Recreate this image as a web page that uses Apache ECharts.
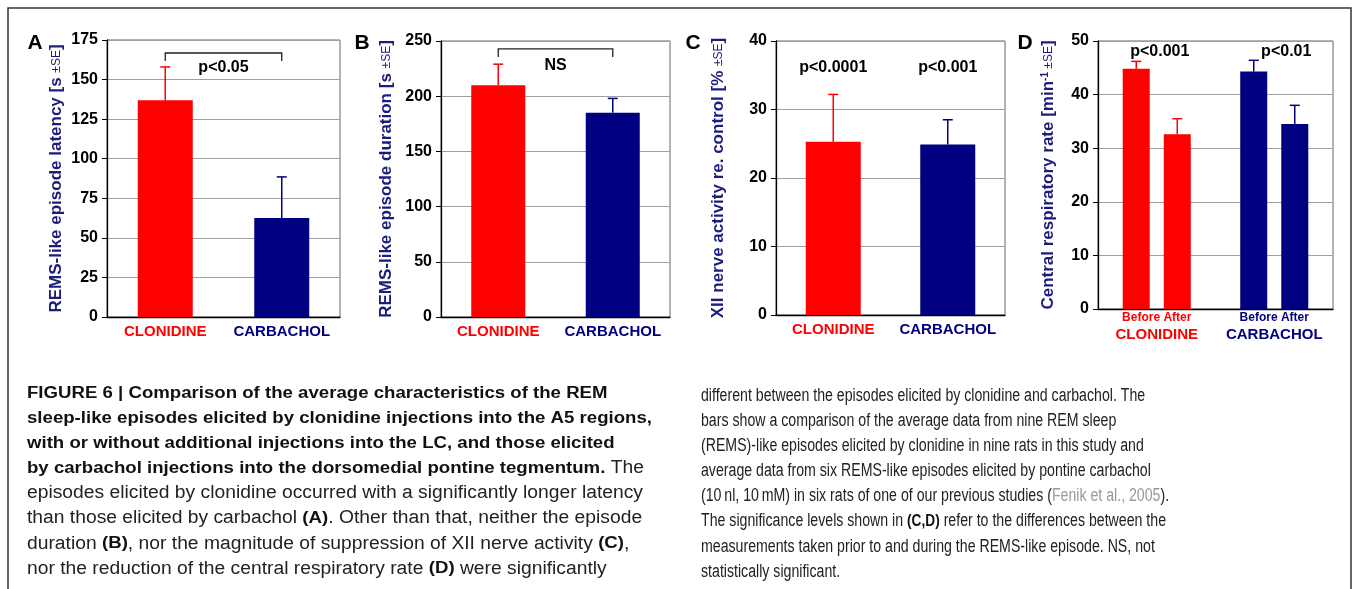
<!DOCTYPE html>
<html>
<head>
<meta charset="utf-8">
<script src="https://cdn.jsdelivr.net/npm/echarts@6/dist/echarts.min.js"></script>
<style>
  html, body { margin: 0; padding: 0; background: #fff; }
  #chart { width: 1356px; height: 589px; }
</style>
</head>
<body>
<div id="chart"></div>
<script>
var categories = ['CLONIDINE', 'CARBACHOL'];
var groupColors = ['#ff0000', '#000080'];

// A: latency (s), B: duration (s), C: XII activity (%), D: resp rate (min-1)
var latencyMean = [137, 62.5];
var latencySE = [21, 26];
var durationMean = [210, 185];
var durationSE = [19, 13];
var xiiMean = [25.3, 24.9];
var xiiSE = [6.9, 3.6];
var rateBefore = [44.8, 44.3];
var rateBeforeSE = [1.4, 2.1];
var rateAfter = [32.6, 34.5];
var rateAfterSE = [2.9, 3.5];

var sigA = 'p<0.05';
var sigB = 'NS';
var sigC = ['p<0.0001', 'p<0.001'];
var sigD = ['p<0.001', 'p<0.01'];

var FONT = '"Liberation Sans", Arial, sans-serif';
var titleColor = '#1c1c7c';

function yAxis(idx, max, step, name, gap) {
  return {
    type: 'value', gridIndex: idx, min: 0, max: max, interval: step,
    name: name, nameLocation: 'middle', nameGap: gap, nameRotate: 90,
    nameTextStyle: {
      rich: {
        b: { fontSize: 17, fontWeight: 'bold', color: titleColor, fontFamily: FONT },
        s: { fontSize: 12, color: titleColor, fontFamily: FONT },
        u: { fontSize: 10, fontWeight: 'bold', color: titleColor, fontFamily: FONT, verticalAlign: 'top' }
      }
    },
    axisLine: { show: true, lineStyle: { color: '#000', width: 1.3 } },
    axisTick: { show: true, length: 5, lineStyle: { color: '#000' } },
    axisLabel: { color: '#000', fontWeight: 'bold', fontSize: 16, fontFamily: FONT, margin: 9 },
    splitLine: { lineStyle: { color: '#a0a0a0', width: 1 } }
  };
}

var catRich = {
  c0: { color: groupColors[0], fontWeight: 'bold', fontSize: 15, fontFamily: FONT, lineHeight: 18 },
  c1: { color: groupColors[1], fontWeight: 'bold', fontSize: 15, fontFamily: FONT, lineHeight: 18 },
  s0: { color: groupColors[0], fontWeight: 'bold', fontSize: 12, fontFamily: FONT, lineHeight: 16 },
  s1: { color: groupColors[1], fontWeight: 'bold', fontSize: 12, fontFamily: FONT, lineHeight: 16 }
};

function xAxis(idx, withSub) {
  return {
    type: 'category', gridIndex: idx, data: categories,
    axisLine: { lineStyle: { color: '#000', width: 1.3 } },
    axisTick: { show: false },
    axisLabel: {
      margin: withSub ? 1 : 6, interval: 0, rich: catRich,
      formatter: function (v, i) {
        var s = '{c' + i + '|' + v + '}';
        return withSub ? '{s' + i + '|Before After}\n' + s : s;
      }
    }
  };
}

function barData(vals) {
  return vals.map(function (v, i) {
    return { value: v, itemStyle: { color: groupColors[i] } };
  });
}

function errSeries(idx, means, ses, offset) {
  return {
    type: 'custom', xAxisIndex: idx, yAxisIndex: idx, z: 3,
    data: means.map(function (m, i) { return [i, m, m + ses[i]]; }),
    renderItem: function (params, api) {
      var base = api.coord([api.value(0), api.value(1)]);
      var top = api.coord([api.value(0), api.value(2)]);
      var x = base[0] + offset;
      var c = groupColors[params.dataIndex];
      return {
        type: 'group', children: [
          { type: 'line', shape: { x1: x, y1: base[1], x2: x, y2: top[1] }, style: { stroke: c, lineWidth: 1.5 } },
          { type: 'line', shape: { x1: x - 5, y1: top[1], x2: x + 5, y2: top[1] }, style: { stroke: c, lineWidth: 1.5 } }
        ]
      };
    }
  };
}

// items: from/to category, optional bracket [top, drop] and text height, all in data units
function sigSeries(idx, items) {
  return {
    type: 'custom', xAxisIndex: idx, yAxisIndex: idx, z: 4,
    data: items.map(function (it) { return [it.from, it.to, it.textY]; }),
    renderItem: function (params, api) {
      var it = items[params.dataIndex];
      var t0 = api.coord([it.from, it.textY]);
      var t1 = api.coord([it.to, it.textY]);
      var children = [{
        type: 'text', x: (t0[0] + t1[0]) / 2 + (it.dx || 0), y: t0[1],
        style: { text: it.text, fill: '#000', font: 'bold 16px ' + FONT, align: 'center', verticalAlign: 'middle' }
      }];
      if (it.bracket) {
        var a = api.coord([it.from, it.bracket[0]]);
        var b = api.coord([it.to, it.bracket[0]]);
        var d = api.coord([it.from, it.bracket[1]]);
        children.push({
          type: 'polyline',
          shape: { points: [[a[0], d[1]], [a[0], a[1]], [b[0], b[1]], [b[0], d[1]]] },
          style: { stroke: '#222', lineWidth: 1.3, fill: null }
        });
      }
      return { type: 'group', children: children };
    }
  };
}

var grids = [
  { left: 107, top: 40, width: 233, height: 277 },
  { left: 441, top: 41, width: 229, height: 276 },
  { left: 776, top: 41, width: 229, height: 274 },
  { left: 1098, top: 41, width: 235, height: 268 }
].map(function (g) {
  g.show = true; g.borderColor = '#666'; g.borderWidth = 1; g.backgroundColor = 'transparent';
  return g;
});

// caption lines: segments of [style, text]
var captionLeft = [
  [['b', 'FIGURE 6 | Comparison of the average characteristics of the REM']],
  [['b', 'sleep-like episodes elicited by clonidine injections into the A5 regions,']],
  [['b', 'with or without additional injections into the LC, and those elicited']],
  [['b', 'by carbachol injections into the dorsomedial pontine tegmentum.'], ['n', ' The']],
  [['n', 'episodes elicited by clonidine occurred with a significantly longer latency']],
  [['n', 'than those elicited by carbachol '], ['b', '(A)'], ['n', '. Other than that, neither the episode']],
  [['n', 'duration '], ['b', '(B)'], ['n', ', nor the magnitude of suppression of XII nerve activity '], ['b', '(C)'], ['n', ',']],
  [['n', 'nor the reduction of the central respiratory rate '], ['b', '(D)'], ['n', ' were significantly']]
];
var captionRight = [
  [['n', 'different between the episodes elicited by clonidine and carbachol. The']],
  [['n', 'bars show a comparison of the average data from nine REM sleep']],
  [['n', '(REMS)-like episodes elicited by clonidine in nine rats in this study and']],
  [['n', 'average data from six REMS-like episodes elicited by pontine carbachol']],
  [['n', '(10\u2009nl, 10\u2009mM) in six rats of one of our previous studies ('], ['g', 'Fenik et al., 2005'], ['n', ').']],
  [['n', 'The significance levels shown in '], ['b', '(C,D)'], ['n', ' refer to the differences between the']],
  [['n', 'measurements taken prior to and during the REMS-like episode. NS, not']],
  [['n', 'statistically significant.']]
];

var capFonts = {
  n: '18px ' + FONT,
  b: 'bold 17.4px ' + FONT,
  g: '18px ' + FONT
};
var capRich = {
  n: { font: capFonts.n, fill: '#222' },
  b: { font: capFonts.b, fill: '#111' },
  g: { font: capFonts.g, fill: '#999' }
};
var measureCtx = document.createElement('canvas').getContext('2d');

function lineWidth(seg) {
  var w = 0;
  seg.forEach(function (s) { measureCtx.font = capFonts[s[0]]; w += measureCtx.measureText(s[1]).width; });
  return w;
}

// one horizontal scale per column, fitted on a reference line (index refIdx ends at refEnd)
function captionText(lines, x0, y0, step, refIdx, refEnd) {
  var sx = (refEnd - x0) / lineWidth(lines[refIdx]);
  return lines.map(function (seg, i) {
    return {
      type: 'text', x: x0, y: y0 + step * i, scaleX: sx,
      style: {
        text: seg.map(function (s) { return '{' + s[0] + '|' + s[1] + '}'; }).join(''),
        rich: capRich, verticalAlign: 'middle', font: capFonts.n
      }
    };
  });
}

function panelLetter(ch, x) {
  return { type: 'text', x: x, y: 43, style: { text: ch, font: 'bold 21px ' + FONT, fill: '#000', align: 'center', verticalAlign: 'middle' } };
}

var option = {
  animation: false,
  backgroundColor: '#fff',
  textStyle: { fontFamily: FONT },
  grid: grids,
  xAxis: [xAxis(0, false), xAxis(1, false), xAxis(2, false), xAxis(3, true)],
  yAxis: [
    yAxis(0, 175, 25, '{b|REMS-like episode latency [s }{s|\u00b1SE}{b|]}', 42),
    yAxis(1, 250, 50, '{b|REMS-like episode duration [s }{s|\u00b1SE}{b|]}', 46),
    yAxis(2, 40, 10, '{b|XII nerve activity re. control [% }{s|\u00b1SE}{b|]}', 49),
    yAxis(3, 50, 10, '{b|Central respiratory rate [min}{u|-1}{s| \u00b1SE}{b|]}', 41)
  ],
  series: [
    { type: 'bar', xAxisIndex: 0, yAxisIndex: 0, barWidth: 55, data: barData(latencyMean) },
    errSeries(0, latencyMean, latencySE, 0),
    sigSeries(0, [{ from: 0, to: 1, textY: 157.7, text: sigA, bracket: [166.8, 161.7] }]),

    { type: 'bar', xAxisIndex: 1, yAxisIndex: 1, barWidth: 54, data: barData(durationMean) },
    errSeries(1, durationMean, durationSE, 0),
    sigSeries(1, [{ from: 0, to: 1, textY: 228, text: sigB, bracket: [242.8, 235.5] }]),

    { type: 'bar', xAxisIndex: 2, yAxisIndex: 2, barWidth: 55, data: barData(xiiMean) },
    errSeries(2, xiiMean, xiiSE, 0),
    sigSeries(2, [
      { from: 0, to: 0, textY: 36.1, text: sigC[0] },
      { from: 1, to: 1, textY: 36.1, text: sigC[1] }
    ]),

    { type: 'bar', name: 'Before', xAxisIndex: 3, yAxisIndex: 3, barWidth: 27, barGap: '52%', data: barData(rateBefore) },
    { type: 'bar', name: 'After', xAxisIndex: 3, yAxisIndex: 3, barWidth: 27, barGap: '52%', data: barData(rateAfter) },
    errSeries(3, rateBefore, rateBeforeSE, -20.5),
    errSeries(3, rateAfter, rateAfterSE, 20.5),
    sigSeries(3, [
      { from: 0, to: 0, textY: 48, text: sigD[0], dx: 3 },
      { from: 1, to: 1, textY: 48, text: sigD[1], dx: 12 }
    ])
  ],
  graphic: [
    { type: 'rect', shape: { x: 8, y: 8, width: 1343, height: 700 }, style: { fill: null, stroke: '#333', lineWidth: 1.5 } },
    panelLetter('A', 35), panelLetter('B', 362), panelLetter('C', 693), panelLetter('D', 1025)
  ].concat(captionText(captionLeft, 27, 393, 25.1, 4, 643))
   .concat(captionText(captionRight, 701, 396, 25.1, 5, 1166))
};

var chart = echarts.init(document.getElementById('chart'));
chart.setOption(option);
</script>
</body>
</html>
